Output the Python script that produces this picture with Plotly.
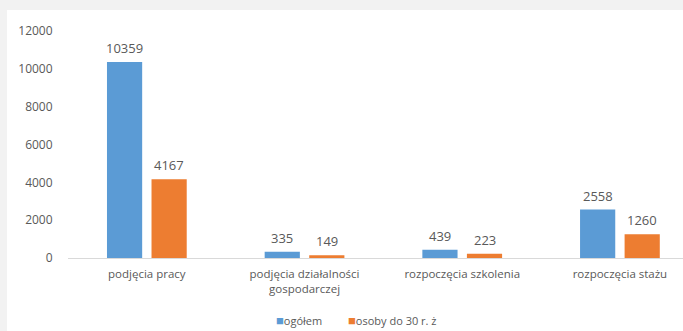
import plotly.graph_objects as go

categories = ["podjęcia pracy", "podjęcia działalności<br>gospodarczej", "rozpoczęcia szkolenia", "rozpoczęcia stażu"]
ogolem = [10359, 335, 439, 2558]
mlodzi = [4167, 149, 223, 1260]
series_names = ["ogółem", "osoby do 30 r. ż"]
colors = ["#5B9BD5", "#ED7D31"]
y_ticks = [0, 2000, 4000, 6000, 8000, 10000, 12000]
y_ticktext = [str(v) for v in y_ticks]

W, H = 683, 331
ml, mr, mt, mb = 68, 0, 31, 73
pw = W - ml - mr
ph = H - mt - mb
bottom = H - mb


def px(x):
    return (x - ml) / pw


def py(y):
    return (bottom - y) / ph


bargap = 0.435
bargroupgap = 0.21
font = "Open Sans"
gray = "#595959"
page_gray = "#F2F2F2"

fig = go.Figure()
for name, vals, col in zip(series_names, [ogolem, mlodzi], colors):
    fig.add_trace(go.Bar(x=list(range(len(categories))), y=vals, name=name,
                         showlegend=False,
                         marker=dict(color=col, line=dict(width=0))))

slot = (1 - bargap) / 2
for k, vals in enumerate([ogolem, mlodzi]):
    off = (k - 0.5) * slot
    for i, v in enumerate(vals):
        fig.add_annotation(x=i + off, y=v, xref="x", yref="y", text=str(v),
                           showarrow=False, yanchor="middle", yshift=14,
                           font=dict(family=font, size=13, color=gray))

# grey page strips around the white chart panel (top and left)
fig.add_shape(type="rect", xref="paper", yref="paper", layer="below",
              x0=px(-5), x1=px(W + 5), y0=py(10), y1=py(-5),
              fillcolor=page_gray, line=dict(width=0))
fig.add_shape(type="rect", xref="paper", yref="paper", layer="below",
              x0=px(-5), x1=px(7), y0=py(H + 5), y1=py(-5),
              fillcolor=page_gray, line=dict(width=0))

# legend drawn as text
legend_x = [274, 346]
for name, col, lx in zip(series_names, colors, legend_x):
    fig.add_annotation(x=px(lx), y=py(320), xref="paper", yref="paper",
                       xanchor="left", yanchor="middle", showarrow=False,
                       text=f"<span style='color:{col};font-size:13px'>■</span>{name}",
                       font=dict(family=font, size=11, color=gray))

fig.update_layout(
    width=W, height=H,
    margin=dict(l=ml, r=mr, t=mt, b=mb, autoexpand=False),
    paper_bgcolor="white", plot_bgcolor="rgba(0,0,0,0)",
    barmode="group", bargap=bargap, bargroupgap=bargroupgap,
    font=dict(family=font, size=11, color=gray),
    showlegend=False,
    xaxis=dict(range=[-0.5, 3.4], tickmode="array", tickvals=list(range(len(categories))),
               ticktext=categories, showline=True, linecolor="#D9D9D9", linewidth=1,
               ticks="outside", ticklen=5, tickcolor="rgba(0,0,0,0)",
               showgrid=False, zeroline=False, fixedrange=True,
               tickfont=dict(family=font, size=11.5, color=gray)),
    yaxis=dict(range=[0, 12000], tickmode="array", tickvals=y_ticks, ticktext=y_ticktext,
               showgrid=False, zeroline=False,
               showline=False, ticks="outside", ticklen=12, tickcolor="rgba(0,0,0,0)",
               tickfont=dict(family=font, size=12, color=gray)),
)

fig.write_html("out.html")
